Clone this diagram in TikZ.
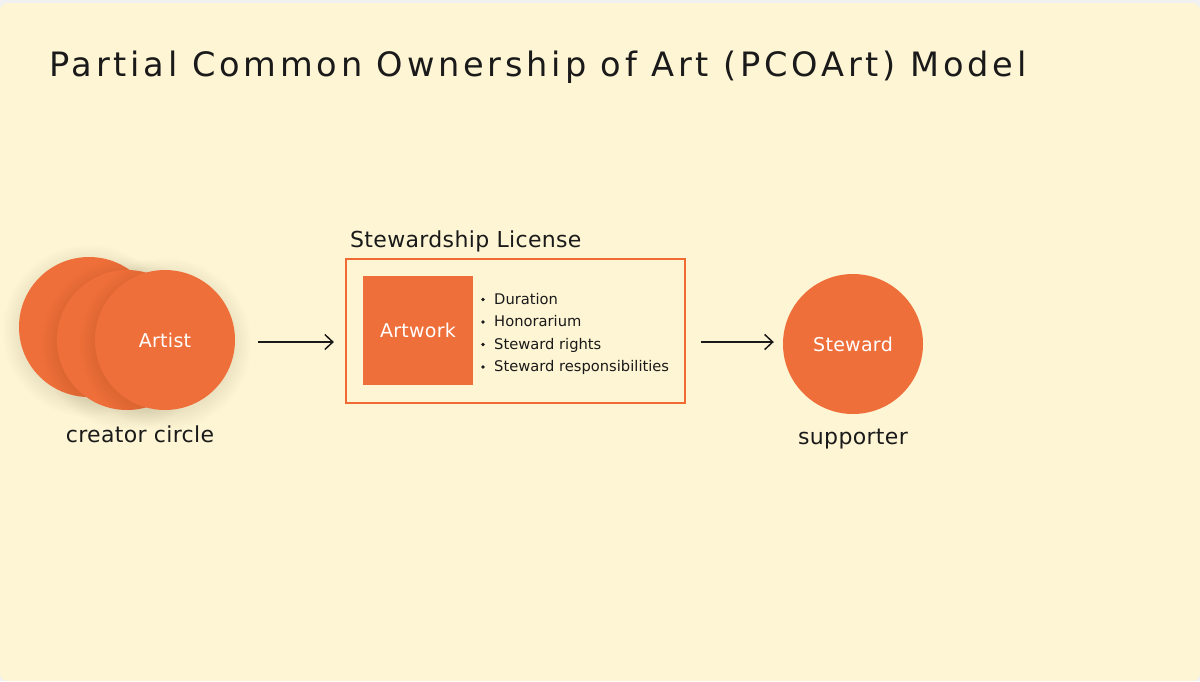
\documentclass[tikz,border=0pt]{standalone}
\usepackage{fontspec}
\setmainfont{DejaVu Sans}
\newfontfamily\titlefont{DejaVu Sans}[LetterSpace=11.3]
\newfontfamily\spacedfont{DejaVu Sans}[LetterSpace=1.5]
\usetikzlibrary{arrows.meta}
\definecolor{cream}{HTML}{FEF5D4}
\definecolor{orng}{HTML}{EF6F3A}
\definecolor{boxline}{HTML}{F06A33}
\definecolor{ink}{HTML}{1A1A1A}
\definecolor{edgegray}{HTML}{F1F1F1}
\begin{document}
\begin{tikzpicture}[x=1pt,y=-1pt,
  disc/.style={circle,fill=orng,minimum size=140pt,inner sep=0pt,text=white,font=\spacedfont\fontsize{19}{22}\selectfont},
  lbl/.style={text=ink,inner sep=0pt,font=\spacedfont\fontsize{22}{26}\selectfont},
  item/.style={text=ink,inner sep=0pt,anchor=base west,font=\fontsize{14.7}{17}\selectfont},
  arr/.style={draw=ink,line width=1.5pt,-{Straight Barb[length=8pt,width=15pt,line width=1.5pt]}},
  glow/.style={fill=black,opacity=0.009}
]
\useasboundingbox (0,0) rectangle (1200,681);
\fill[edgegray] (0,0) rectangle (1200,681);
\fill[cream,rounded corners=8pt] (0,3) rectangle (1200,681);

% title
\node[anchor=base west,inner sep=0pt,text=ink,font=\titlefont\fontsize{33.6}{40}\selectfont] (title) at (49,76) {Partial Common Ownership of Art (PCOArt) Model};

% creator circle
\foreach \k in {1,...,9} {\fill[glow] (89,331) circle ({68+2*\k});}
\node[disc] (back) at (89,327) {};
\foreach \k in {1,...,9} {\fill[glow] (127,344) circle ({68+2*\k});}
\node[disc] (mid) at (127,340) {};
\foreach \k in {1,...,9} {\fill[glow] (165,344) circle ({68+2*\k});}
\node[disc] (artist) at (165,340) {Artist};
\node[lbl,anchor=base] (creator) at (140,442) {creator circle};

% license
\node[lbl,anchor=base west] (lictitle) at (350,247) {Stewardship License};
\node[draw=boxline,line width=2.2pt,minimum width=339pt,minimum height=144pt,inner sep=0pt] (license) at (515.5,331) {};
\node[fill=orng,minimum width=110pt,minimum height=109pt,inner sep=0pt,text=white,font=\spacedfont\fontsize{19}{22}\selectfont] (artwork) at (418,330.5) {Artwork};
\node[item] (i1) at (494,304) {Duration};
\node[item] (i2) at (494,326.5) {Honorarium};
\node[item] (i3) at (494,349) {Steward rights};
\node[item] (i4) at (494,371.5) {Steward responsibilities};
\foreach \n in {i1,i2,i3,i4} {\fill[ink] ([shift={(-11,-4.5)}]\n.base west) circle (1.9);}

% steward
\node[disc] (steward) at (853,344) {Steward};
\node[lbl,anchor=base] (supporter) at (853,444) {supporter};

% arrows
\draw[arr] ([shift={(23,2)}]artist.east) -- ([shift={(-11,11)}]license.west);
\draw[arr] ([shift={(15,11)}]license.east) -- ([shift={(-9,-2)}]steward.west);
\end{tikzpicture}
\end{document}
